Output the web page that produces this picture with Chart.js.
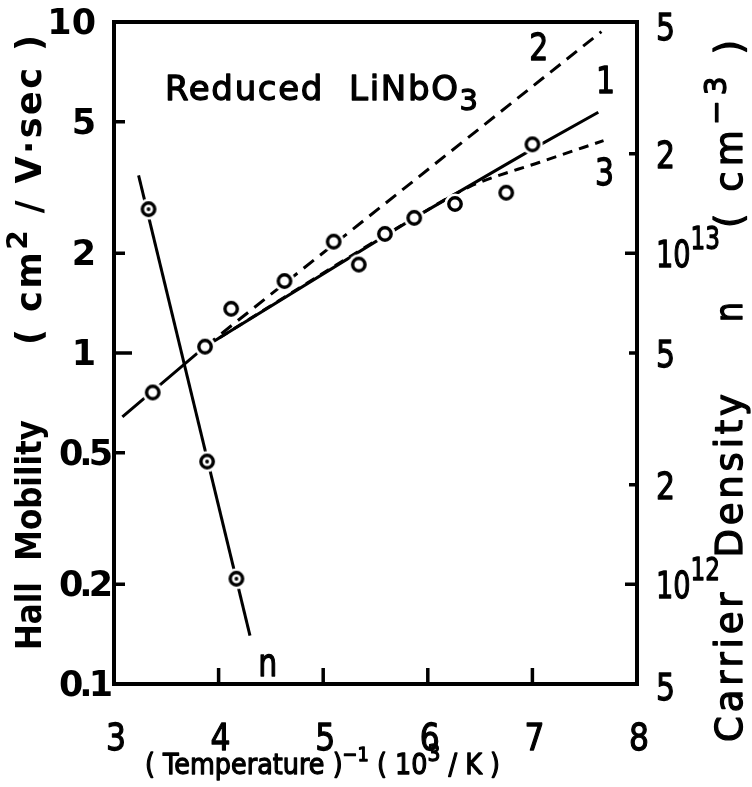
<!DOCTYPE html>
<html>
<head>
<meta charset="utf-8">
<script src="https://cdn.jsdelivr.net/npm/chart.js@4/dist/chart.umd.min.js"></script>
<style>
  html, body { margin: 0; padding: 0; background: #fff; overflow: hidden; }
  #wrap { width: 752px; height: 787px; position: relative; }
</style>
</head>
<body>
<div id="wrap"><canvas id="c"></canvas></div>
<script>
// Hall mobility of reduced LiNbO3 vs inverse temperature (10^3/K)
const invTempMobility = [3.37, 3.87, 4.12, 4.63, 5.10, 5.34, 5.59, 5.87, 6.26, 6.75, 7.00];
const mobility        = [0.76, 1.045, 1.36, 1.65, 2.17, 1.85, 2.29, 2.56, 2.82, 3.05, 4.27];

// Carrier density n (cm^-3)
const invTempCarrier = [3.33, 3.89, 4.17];
const carrierDensity = [1.36e13, 2.35e12, 1.04e12];

// Curve 1 (solid), curve 2 (dashed), curve 3 (short dashes)
const curve1X = [3.08, 3.87, 5.87, 7.00, 7.63];
const curve1Y = [0.641, 1.045, 2.56, 4.13, 5.34];
const curve2X = [3.87, 7.66];
const curve2Y = [1.045, 9.35];
const curve3X = [3.87, 5.87, 6.41, 7.07, 7.68];
const curve3Y = [1.045, 2.56, 3.19, 3.77, 4.38];

// Straight line through the carrier density points
const carrierLineX = [3.235, 4.30];
const carrierLineY = [1.72e13, 7.0e11];

// Axis ticks
const xTicks = [3, 4, 5, 6, 7, 8];
const mobilityTicks = [10, 5, 2, 1, 0.5, 0.2, 0.1];
const mobilityTickLabels = ['10', '5', '2', '1', '0.5', '0.2', '0.1'];
const carrierTicks = [5e13, 2e13, 1e13, 5e12, 2e12, 1e12, 5e11];
const carrierTickLabels = [['5'], ['2'], ['10', '13'], ['5'], ['2'], ['10', '12'], ['5']];

// Curve labels, placed in data coordinates (mobility axis)
const curveLabels = [
  { text: '2', x: 7.06, y: 8.4 },
  { text: '1', x: 7.70, y: 6.7 },
  { text: '3', x: 7.69, y: 3.53 },
  { text: 'n', x: 4.47, y: 0.116 }
];

const pts = (xs, ys) => xs.map((x, i) => ({ x, y: ys[i] }));

// Marker images: open circle, and circle with centre dot; both with a white halo
function marker(dot) {
  const c = document.createElement('canvas');
  c.width = 26; c.height = 26;
  const g = c.getContext('2d');
  g.fillStyle = '#fff';
  g.beginPath(); g.arc(13, 13, 10.5, 0, Math.PI * 2); g.fill();
  g.strokeStyle = '#000';
  g.lineWidth = 3.4;
  g.beginPath(); g.arc(13, 13, 6.2, 0, Math.PI * 2); g.stroke();
  if (dot) {
    g.fillStyle = '#000';
    g.beginPath(); g.arc(13, 13, 1.9, 0, Math.PI * 2); g.fill();
  }
  return c;
}
const ringImg = marker(false);
const dotImg = marker(true);

const FAM = '"DejaVu Sans", sans-serif';

// Draw a run of text parts (with optional sup/sub) fitted to a given width:
// narrower text gets letter spacing, wider text is compressed horizontally.
// Regular-weight text gets a thin outline so it reads as a medium weight.
function setFont(ctx, p, fs, weight) {
  const s = (p.sup || p.sub) ? fs * (p.scale || 0.8) : fs;
  ctx.font = `${weight} ${s}px ${FAM}`;
}
function drawParts(ctx, parts, x, y, fs, width, angle, align, weight) {
  weight = weight || 'normal';
  ctx.save();
  ctx.translate(x, y);
  if (angle) ctx.rotate(angle);
  ctx.letterSpacing = '0px';
  let w = 0, n = 0;
  for (const p of parts) { setFont(ctx, p, fs, weight); w += ctx.measureText(p.t).width; n += p.t.length; }
  let sx = 1, ls = 0;
  if (width) {
    if (width >= w) ls = n > 1 ? (width - w) / (n - 1) : 0;
    else sx = width / w;
  }
  const total = w + ls * Math.max(n - 1, 0);
  ctx.scale(sx, 1);
  let cx = 0;
  if (align === 'center') cx = -total / 2;
  if (align === 'right') cx = -total;
  ctx.textAlign = 'left';
  ctx.textBaseline = 'alphabetic';
  ctx.fillStyle = '#000';
  ctx.strokeStyle = '#000';
  ctx.lineWidth = 1.3;
  ctx.lineJoin = 'round';
  ctx.letterSpacing = ls + 'px';
  for (const p of parts) {
    setFont(ctx, p, fs, weight);
    const dy = p.sup ? -(p.rise || fs * 0.45) : p.sub ? (p.drop || fs * 0.28) : 0;
    ctx.fillText(p.t, cx, dy);
    if (weight === 'normal') ctx.strokeText(p.t, cx, dy);
    cx += ctx.measureText(p.t).width;
  }
  ctx.restore();
}

const frame = {
  id: 'frame',
  afterDraw(chart) {
    const ctx = chart.ctx;
    const a = chart.chartArea;
    const xs = chart.scales.x, ys = chart.scales.y, y2 = chart.scales.y2;
    ctx.save();
    ctx.strokeStyle = '#000';
    ctx.lineWidth = 4;
    ctx.strokeRect(a.left, a.top, a.right - a.left, a.bottom - a.top);

    // inward tick marks
    ctx.lineWidth = 3.5;
    ctx.beginPath();
    for (const v of xTicks) {
      if (v === 3 || v === 8) continue;
      const px = xs.getPixelForValue(v);
      ctx.moveTo(px, a.bottom); ctx.lineTo(px, a.bottom - 16);
    }
    for (const v of mobilityTicks) {
      if (v === 10 || v === 0.1) continue;
      const py = ys.getPixelForValue(v);
      ctx.moveTo(a.left, py); ctx.lineTo(a.left + (v === 1 ? 18 : 11), py);
    }
    for (const v of carrierTicks) {
      if (v === 5e13 || v === 5e11) continue;
      const py = y2.getPixelForValue(v);
      const len = (v === 1e13 || v === 1e12) ? 12 : 8;
      ctx.moveTo(a.right, py); ctx.lineTo(a.right - len, py);
    }
    ctx.stroke();

    // left tick labels: whole numbers end short of the axis, decimals run closer to it
    ctx.fillStyle = '#000';
    ctx.font = `bold 35px ${FAM}`;
    ctx.textAlign = 'right';
    ctx.textBaseline = 'middle';
    mobilityTicks.forEach((v, i) => {
      const lab = mobilityTickLabels[i];
      const dec = lab.includes('.');
      ctx.letterSpacing = dec ? '-4px' : '0px';
      ctx.fillText(lab, a.left - (dec ? 5 : 18), ys.getPixelForValue(v) + 3);
    });
    ctx.letterSpacing = '0px';

    // bottom tick labels
    xTicks.forEach(v => {
      drawParts(ctx, [{ t: String(v) }], xs.getPixelForValue(v) + 2, a.bottom + 66, 38, 20, 0, 'center');
    });

    // right tick labels
    carrierTicks.forEach((v, i) => {
      const lab = carrierTickLabels[i];
      const py = y2.getPixelForValue(v);
      const parts = [{ t: lab[0] }];
      let w = 19;
      if (lab.length > 1) { parts.push({ t: lab[1], sup: true, scale: 0.85, rise: 18 }); w = 64; }
      const base = py + 14 + (i === 0 ? 4 : 0) + (i === carrierTicks.length - 1 ? 2 : 0);
      drawParts(ctx, parts, a.right + 19, base, 38, w, 0, 'left');
    });

    // axis titles
    drawParts(ctx, [{ t: '( Temperature )' }, { t: '−1', sup: true, scale: 0.7, rise: 13 },
                    { t: ' ( 10' }, { t: '3', sup: true, scale: 0.8, rise: 13 }, { t: ' / K )' }],
              145, 774, 29, 355, 0, 'left');
    drawParts(ctx, [{ t: 'Hall  Mobility' }], 41, 650, 35, 230, -Math.PI / 2, 'left', 'bold');
    drawParts(ctx, [{ t: '( cm' }, { t: '2', sup: true, scale: 0.8, rise: 14 }, { t: ' / V·sec )' }],
              41, 345, 35, 310, -Math.PI / 2, 'left', 'bold');
    drawParts(ctx, [{ t: 'Carrier  Density' }], 742, 742, 37, 348, -Math.PI / 2, 'left');
    drawParts(ctx, [{ t: 'n' }], 742, 322, 37, 20, -Math.PI / 2, 'left');
    drawParts(ctx, [{ t: '( cm' }, { t: '−3', sup: true, scale: 0.8, rise: 16 }, { t: ' )' }],
              742, 228, 37, 188, -Math.PI / 2, 'left');

    // panel label
    drawParts(ctx, [{ t: 'Reduced  LiNbO' }, { t: '3', sub: true, scale: 0.85, drop: 10 }],
              165, 100, 34, 313, 0, 'left');

    // curve labels
    curveLabels.forEach(l => {
      drawParts(ctx, [{ t: l.text }], xs.getPixelForValue(l.x), ys.getPixelForValue(l.y) + 13, 38, 19, 0, 'center');
    });
    ctx.restore();
  }
};

new Chart(document.getElementById('c'), {
  type: 'scatter',
  data: {
    datasets: [
      { data: pts(invTempMobility, mobility), yAxisID: 'y', showLine: false,
        pointStyle: ringImg, pointRadius: 7, order: 0 },
      { data: pts(invTempCarrier, carrierDensity), yAxisID: 'y2', showLine: false,
        pointStyle: dotImg, pointRadius: 7, order: 0 },
      { data: pts(curve1X, curve1Y), yAxisID: 'y', showLine: true, borderColor: '#000',
        borderWidth: 3, pointRadius: 0, tension: 0, order: 2 },
      { data: pts(curve2X, curve2Y), yAxisID: 'y', showLine: true, borderColor: '#000',
        borderWidth: 3, borderDash: [13, 8], pointRadius: 0, tension: 0, order: 2 },
      { data: pts(curve3X, curve3Y), yAxisID: 'y', showLine: true, borderColor: '#000',
        borderWidth: 3, borderDash: [10, 7], pointRadius: 0, cubicInterpolationMode: 'monotone', order: 2 },
      { data: pts(carrierLineX, carrierLineY), yAxisID: 'y2', showLine: true, borderColor: '#000',
        borderWidth: 3, pointRadius: 0, tension: 0, order: 2 }
    ]
  },
  options: {
    responsive: true,
    maintainAspectRatio: false,
    animation: false,
    events: [],
    layout: { padding: { top: 22, left: 0, right: 0, bottom: 0 } },
    plugins: { legend: { display: false }, tooltip: { enabled: false } },
    scales: {
      x: {
        type: 'linear', min: 3, max: 8,
        grid: { display: false }, border: { display: false },
        ticks: { display: false },
        afterFit(s) { s.height = 103; }
      },
      y: {
        type: 'logarithmic', position: 'left', min: 0.1, max: 10,
        grid: { display: false }, border: { display: false },
        ticks: { display: false },
        afterFit(s) { s.width = 114; }
      },
      y2: {
        type: 'logarithmic', position: 'right', min: 5e11, max: 5e13,
        grid: { display: false }, border: { display: false },
        ticks: { display: false },
        afterFit(s) { s.width = 115; }
      }
    }
  },
  plugins: [frame]
});
</script>
</body>
</html>
